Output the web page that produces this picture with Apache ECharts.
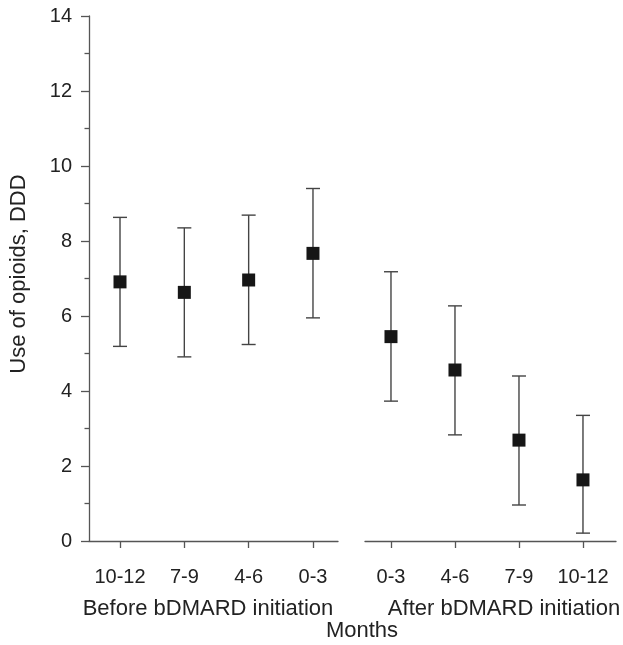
<!DOCTYPE html>
<html>
<head>
<meta charset="utf-8">
<title>Use of opioids before and after bDMARD initiation</title>
<script src="https://cdn.jsdelivr.net/npm/echarts@6/dist/echarts.min.js"></script>
<style>
  html, body { margin: 0; padding: 0; background: #ffffff; }
  #chart { width: 623px; height: 645px; }
</style>
</head>
<body>
<div id="chart"></div>
<script>
// Quarter periods (months) relative to bDMARD initiation
const beforeLabels = ['10-12', '7-9', '4-6', '0-3'];
const afterLabels = ['0-3', '4-6', '7-9', '10-12'];

// Mean opioid use (DDD) with lower / upper interval limits
const beforeMean = [6.91, 6.63, 6.96, 7.67];
const beforeLow = [5.19, 4.91, 5.24, 5.95];
const beforeHigh = [8.63, 8.35, 8.69, 9.40];

const afterMean = [5.45, 4.56, 2.69, 1.63];
const afterLow = [3.73, 2.83, 0.96, 0.21];
const afterHigh = [7.18, 6.27, 4.40, 3.35];

// Y axis ticks
const yMin = 0;
const yMax = 14;
const yStep = 2;

const FONT = "'Liberation Sans', Arial, Helvetica, sans-serif";
const TEXT = '#222222';
const AXIS = '#555555';
const BAR = '#444444';
const MARK = '#161616';

const positions = beforeLabels.map((_, i) => i + 1);

function pointData(means) {
  return means.map((m, i) => [positions[i], m]);
}
function rangeData(lows, highs) {
  return lows.map((lo, i) => [positions[i], lo, highs[i]]);
}

// Vertical whisker with horizontal caps at both ends
function renderErrorBar(params, api) {
  const x = api.value(0);
  const lo = api.coord([x, api.value(1)]);
  const hi = api.coord([x, api.value(2)]);
  const half = 7;
  const style = { stroke: BAR, lineWidth: 1.4 };
  return {
    type: 'group',
    children: [
      { type: 'line', shape: { x1: hi[0], y1: hi[1], x2: lo[0], y2: lo[1] }, style: style },
      { type: 'line', shape: { x1: hi[0] - half, y1: hi[1], x2: hi[0] + half, y2: hi[1] }, style: style },
      { type: 'line', shape: { x1: lo[0] - half, y1: lo[1], x2: lo[0] + half, y2: lo[1] }, style: style }
    ]
  };
}

function xAxisFor(gridIndex, labels, min, max) {
  return {
    type: 'value',
    gridIndex: gridIndex,
    min: min,
    max: max,
    axisLine: { show: true, onZero: false, lineStyle: { color: AXIS, width: 1.3 } },
    axisTick: { show: true, length: 7, customValues: positions, lineStyle: { color: AXIS, width: 1.3 } },
    axisLabel: {
      customValues: positions,
      formatter: v => labels[Math.round(v) - 1] || '',
      margin: 26,
      color: TEXT,
      fontSize: 20,
      fontFamily: FONT
    },
    splitLine: { show: false }
  };
}

const chart = echarts.init(document.getElementById('chart'), null, { renderer: 'canvas' });

chart.setOption({
  backgroundColor: '#ffffff',
  animation: false,
  grid: [
    { left: 89, right: 285, top: 16, bottom: 104 },
    { left: 365, right: 7, top: 16, bottom: 104 }
  ],
  xAxis: [
    xAxisFor(0, beforeLabels, 0.518, 4.389),
    xAxisFor(1, afterLabels, 0.594, 4.516)
  ],
  yAxis: [
    {
      type: 'value',
      gridIndex: 0,
      min: yMin,
      max: yMax,
      interval: yStep,
      axisLine: { show: true, lineStyle: { color: AXIS, width: 1.3 } },
      axisTick: { show: true, length: 8, lineStyle: { color: AXIS, width: 1.3 } },
      minorTick: { show: true, splitNumber: 2, length: 4.5, lineStyle: { color: AXIS, width: 1.3 } },
      axisLabel: { margin: 17, color: TEXT, fontSize: 20, fontFamily: FONT },
      splitLine: { show: false }
    },
    {
      type: 'value',
      gridIndex: 1,
      min: yMin,
      max: yMax,
      interval: yStep,
      show: false,
      splitLine: { show: false }
    }
  ],
  series: [
    {
      type: 'custom',
      xAxisIndex: 0,
      yAxisIndex: 0,
      renderItem: renderErrorBar,
      encode: { x: 0, y: [1, 2] },
      data: rangeData(beforeLow, beforeHigh),
      z: 2
    },
    {
      type: 'custom',
      xAxisIndex: 1,
      yAxisIndex: 1,
      renderItem: renderErrorBar,
      encode: { x: 0, y: [1, 2] },
      data: rangeData(afterLow, afterHigh),
      z: 2
    },
    {
      type: 'scatter',
      xAxisIndex: 0,
      yAxisIndex: 0,
      symbol: 'rect',
      symbolSize: 13,
      itemStyle: { color: MARK, opacity: 1 },
      data: pointData(beforeMean),
      z: 3
    },
    {
      type: 'scatter',
      xAxisIndex: 1,
      yAxisIndex: 1,
      symbol: 'rect',
      symbolSize: 13,
      itemStyle: { color: MARK, opacity: 1 },
      data: pointData(afterMean),
      z: 3
    }
  ],
  graphic: [
    {
      type: 'text',
      x: 19, y: 274,
      rotation: Math.PI / 2,
      style: { text: 'Use of opioids, DDD', align: 'center', verticalAlign: 'middle', fill: TEXT, fontSize: 22, fontFamily: FONT }
    },
    {
      type: 'text',
      x: 208, y: 609,
      style: { text: 'Before bDMARD initiation', align: 'center', verticalAlign: 'middle', fill: TEXT, fontSize: 22, fontFamily: FONT }
    },
    {
      type: 'text',
      x: 504, y: 609,
      style: { text: 'After bDMARD initiation', align: 'center', verticalAlign: 'middle', fill: TEXT, fontSize: 22, fontFamily: FONT }
    },
    {
      type: 'text',
      x: 362, y: 631,
      style: { text: 'Months', align: 'center', verticalAlign: 'middle', fill: TEXT, fontSize: 22, fontFamily: FONT }
    }
  ]
});
</script>
</body>
</html>
